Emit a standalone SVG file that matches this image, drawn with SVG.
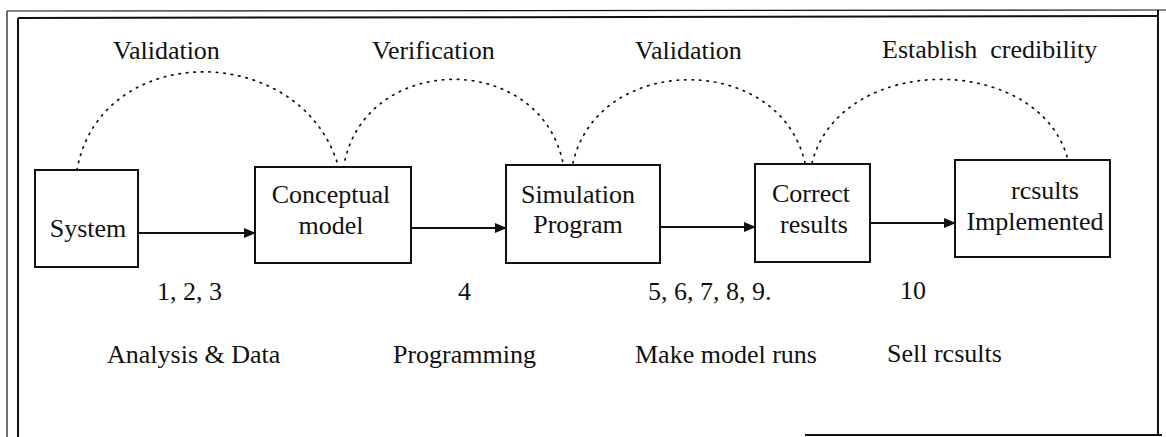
<svg xmlns="http://www.w3.org/2000/svg" width="1166" height="437" viewBox="0 0 1166 437">
<defs>
<style>
text{font-family:"Liberation Serif","Times New Roman",serif;font-size:26px;fill:#111}
.box{fill:#fff;stroke:#111;stroke-width:2}
.frame{stroke:#111;stroke-width:2;fill:none}
.thin{stroke:#111;stroke-width:1.2;fill:none}
.arc{fill:none;stroke:#111;stroke-width:1.7;stroke-dasharray:1.5 6;stroke-linecap:round}
.flow{stroke:#111;stroke-width:2;fill:none;marker-end:url(#ah)}
.c{text-anchor:middle}
</style>
<marker id="ah" viewBox="0 0 12 10" refX="11" refY="5" markerWidth="12" markerHeight="10" markerUnits="userSpaceOnUse" orient="auto">
<path d="M0,0 L12,5 L0,10 Z" fill="#111"/>
</marker>
</defs>
<rect width="1166" height="437" fill="#fff"/>
<g id="frame">
<line class="thin" x1="7" y1="11" x2="7" y2="437"/>
<line class="frame" x1="18" y1="18" x2="18" y2="437"/>
<line class="thin" x1="7" y1="11" x2="1166" y2="10"/>
<line class="frame" x1="18" y1="18" x2="1158" y2="16"/>
<line class="frame" x1="1158" y1="10" x2="1158" y2="435"/>
<line class="frame" x1="805" y1="435" x2="1162" y2="435"/>
</g>
<g id="connectors">
<path class="arc" d="M77,170 C100,40 300,40 338,165"/>
<path class="arc" d="M345,160 C370,52 540,52 563,163"/>
<path class="arc" d="M573,163 C598,52 780,52 805,163"/>
<path class="arc" d="M812,163 C840,52 1040,52 1068,160"/>
<line class="flow" x1="138" y1="233" x2="255" y2="233"/>
<line class="flow" x1="411" y1="228" x2="506" y2="228"/>
<line class="flow" x1="660" y1="227" x2="755" y2="227"/>
<line class="flow" x1="870" y1="223" x2="955" y2="223"/>
</g>
<g id="labels">
<text x="113" y="59">Validation</text>
<text x="372" y="59">Verification</text>
<text x="635" y="59">Validation</text>
<text x="882" y="58" xml:space="preserve">Establish  credibility</text>
<text x="157" y="300">1, 2, 3</text>
<text x="458" y="300">4</text>
<text x="648" y="300">5, 6, 7, 8, 9.</text>
<text x="900" y="299">10</text>
<text x="107" y="363">Analysis &amp; Data</text>
<text x="393" y="363">Programming</text>
<text x="635" y="363">Make model runs</text>
<text x="887" y="362">Sell rcsults</text>
</g>
<g id="system">
<rect class="box" x="35" y="170" width="103" height="97"/>
<text class="c" x="88" y="237">System</text>
</g>
<g id="conceptual-model">
<rect class="box" x="255" y="167" width="156" height="96"/>
<text class="c" x="331" y="203">Conceptual</text>
<text class="c" x="331" y="234">model</text>
</g>
<g id="simulation-program">
<rect class="box" x="506" y="165" width="154" height="98"/>
<text class="c" x="578" y="203">Simulation</text>
<text class="c" x="578" y="233">Program</text>
</g>
<g id="correct-results">
<rect class="box" x="755" y="164" width="115" height="98"/>
<text class="c" x="811" y="202">Correct</text>
<text class="c" x="814" y="233">results</text>
</g>
<g id="results-implemented">
<rect class="box" x="955" y="160" width="155" height="97"/>
<text class="c" x="1045" y="199">rcsults</text>
<text class="c" x="1035" y="230">Implemented</text>
</g>
</svg>
